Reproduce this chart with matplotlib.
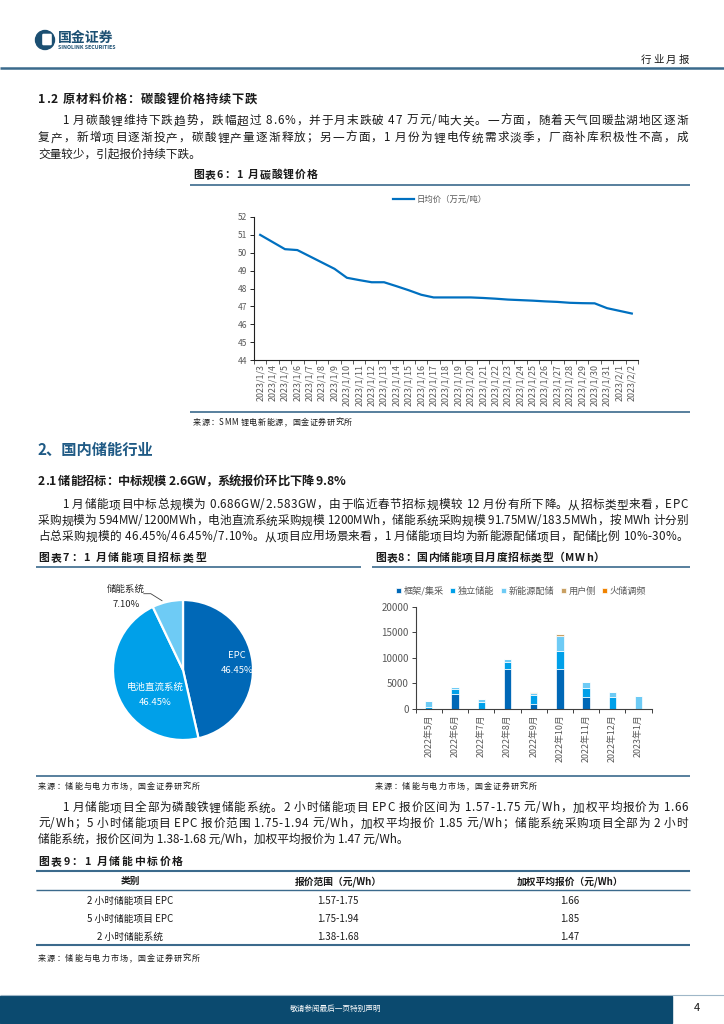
import numpy as np
import matplotlib
matplotlib.use('Agg')
import matplotlib.pyplot as plt
from matplotlib.patches import Circle, Rectangle, FancyBboxPatch
from matplotlib.ticker import FixedLocator
from matplotlib.font_manager import FontProperties

FAMILY = ['Noto Sans CJK SC', 'DejaVu Sans']
plt.rcParams['font.family'] = FAMILY
plt.rcParams['axes.unicode_minus'] = False

# chart 6: daily lithium carbonate price (10k yuan/t)
dates = ['2023/1/%d' % d for d in range(3, 32)] + ['2023/2/1', '2023/2/2']
prices = [51.0, 50.6, 50.2, 50.15, 49.8, 49.45, 49.1, 48.6, 48.47, 48.35, 48.35,
          48.13, 47.9, 47.65, 47.5, 47.5, 47.5, 47.5, 47.47, 47.43, 47.38, 47.35,
          47.32, 47.28, 47.25, 47.2, 47.18, 47.17, 46.9, 46.75, 46.6]

# chart 7: tender types in January
pie_labels = ['EPC', '电池直流系统', '储能系统']
pie_values = [46.45, 46.45, 7.10]

# chart 8: monthly tender volume by type (MWh)
months = ['2022年5月', '2022年6月', '2022年7月', '2022年8月', '2022年9月',
          '2022年10月', '2022年11月', '2022年12月', '2023年1月']
series_names = ['框架/集采', '独立储能', '新能源配储', '用户侧', '火储调频']
kuangjia = [0, 2880, 0, 7720, 850, 7780, 2350, 0, 0]
duli = [400, 1040, 1370, 1370, 1900, 3470, 1770, 2220, 0]
xinnengyuan = [1100, 330, 530, 660, 390, 3070, 1110, 980, 2420]
yonghu = [0, 0, 0, 0, 130, 380, 0, 0, 0]
huochu = [0, 0, 0, 0, 0, 0, 0, 0, 0]

# table 9
tbl_header = ['类别', '报价范围（元/Wh）', '加权平均报价（元/Wh）']
tbl_cat = ['2 小时储能项目 EPC', '5 小时储能项目 EPC', '2 小时储能系统']
tbl_range = ['1.57-1.75', '1.75-1.94', '1.38-1.68']
tbl_avg = ['1.66', '1.85', '1.47']

W, H = 724, 1024
BLUE_D = '#0068B7'
BLUE_M = '#00A0E9'
BLUE_L = '#6ECBF5'
RULE = '#3B6A8C'
GRAY = '#595959'
TXT = '#1a1a1a'
BODY = 8.4

fig = plt.figure(figsize=(W / 100, H / 100), dpi=100)
renderer = fig.canvas.get_renderer()

# page overlay in pixel coordinates
pg = fig.add_axes([0, 0, 1, 1])
pg.set_xlim(0, W)
pg.set_ylim(H, 0)
pg.axis('off')


def put(x, y, s, size=BODY, x1=None, weight='normal', **kw):
    kw.setdefault('color', TXT)
    yb = y + 0.37 * size * 100 / 72   # baseline so mixed glyphs line up
    if x1 is None:
        pg.text(x, yb, s, fontsize=size, va='baseline', weight=weight, **kw)
        return
    # spread characters so the line ends at x1
    fp = FontProperties(family=FAMILY, size=size, weight=weight)
    ws = [renderer.get_text_width_height_descent(c, fp, ismath=False)[0] for c in s]
    gap = (x1 - x - sum(ws)) / (len(s) - 1)
    xx = x
    for c, w in zip(s, ws):
        if c != ' ':
            pg.text(xx, yb, c, fontsize=size, va='baseline', weight=weight, **kw)
        xx += w + gap


def rule(x0, x1, y, lw=1.2, color=RULE):
    pg.plot([x0, x1], [y, y], color=color, lw=lw, solid_capstyle='butt')


# header
pg.add_patch(Circle((45, 40), 9.5, color='#1B4F72'))
pg.add_patch(FancyBboxPatch((43.5, 35), 7, 9, boxstyle='round,pad=0.6', color='white'))
put(58, 37, '国金证券', size=10, weight='bold', color='#1B4F72')
put(58, 47.5, 'SINOLINK SECURITIES', size=3.8, weight='bold', color='#1B4F72')
put(641, 59, '行业月报', size=7.5, x1=689)
rule(0, W, 68, lw=1.8)

# section 1.2
put(38, 98, '1.2 原材料价格：碳酸锂价格持续下跌', size=8.8, weight='bold', x1=257)
put(62, 120, '1 月碳酸锂维持下跌趋势，跌幅超过 8.6%，并于月末跌破 47 万元/吨大关。一方面，随着天气回暖盐湖地区逐渐', x1=688)
put(38, 137, '复产，新增项目逐渐投产，碳酸锂产量逐渐释放；另一方面，1 月份为锂电传统需求淡季，厂商补库积极性不高，成', x1=688)
put(38, 153, '交量较少，引起报价持续下跌。')

put(193, 174, '图表6：1 月碳酸锂价格', size=7.8, weight='bold', x1=318)
rule(190, 690, 185)
rule(190, 690, 412)
put(193, 422, '来源：SMM 锂电新能源，国金证券研究所', size=5.8, x1=352)

# section 2
put(38, 449, '2、国内储能行业', size=11, weight='bold', color='#1F5A85')
put(38, 480, '2.1 储能招标：中标规模 2.6GW，系统报价环比下降 9.8%', size=8.8, weight='bold', x1=345)
put(62, 504, '1 月储能项目中标总规模为 0.686GW/2.583GW，由于临近春节招标规模较 12 月份有所下降。从招标类型来看，EPC', x1=688)
put(38, 520, '采购规模为 594MW/1200MWh，电池直流系统采购规模 1200MWh，储能系统采购规模 91.75MW/183.5MWh，按 MWh 计分别', x1=688)
put(38, 536, '占总采购规模的 46.45%/46.45%/7.10%。从项目应用场景来看，1 月储能项目均为新能源配储项目，配储比例 10%-30%。', x1=688)

put(38, 557, '图表7：1 月储能项目招标类型', size=7.8, weight='bold', x1=206)
put(375, 557, '图表8：国内储能项目月度招标类型（MWh）', size=7.8, weight='bold', x1=604)
rule(36, 361, 567)
rule(372, 690, 567)
rule(36, 690, 776)
put(38, 786, '来源：储能与电力市场，国金证券研究所', size=5.8, x1=200)
put(375, 786, '来源：储能与电力市场，国金证券研究所', size=5.8, x1=537)

put(62, 807, '1 月储能项目全部为磷酸铁锂储能系统。2 小时储能项目 EPC 报价区间为 1.57-1.75 元/Wh，加权平均报价为 1.66', x1=688)
put(38, 823, '元/Wh；5 小时储能项目 EPC 报价范围 1.75-1.94 元/Wh，加权平均报价 1.85 元/Wh；储能系统采购项目全部为 2 小时', x1=688)
put(38, 839, '储能系统，报价区间为 1.38-1.68 元/Wh，加权平均报价为 1.47 元/Wh。')

# table 9
put(38, 861, '图表9：1 月储能中标价格', size=7.8, weight='bold', x1=183)
rule(36, 690, 871, lw=1.5)
rule(36, 690, 890, lw=1.0)
rule(36, 690, 945, lw=1.5)
col_x = [130, 338, 570]
for cx, h in zip(col_x, tbl_header):
    put(cx, 880.5, h, size=7, weight='bold', ha='center')
for i in range(3):
    yy = 900 + i * 18
    put(col_x[0], yy, tbl_cat[i], size=7, ha='center')
    put(col_x[1], yy, tbl_range[i], size=7, ha='center')
    put(col_x[2], yy, tbl_avg[i], size=7, ha='center')
put(38, 958, '来源：储能与电力市场，国金证券研究所', size=5.8, x1=200)

# footer
pg.add_patch(Rectangle((0, 996), 672, 27, color='#0B4A6F'))
rule(0, W, 995, lw=0.8, color='#9fb7c8')
put(336, 1008, '敬请参阅最后一页特别声明', size=5.5, color='white', ha='center')
put(697, 1007, '4', size=8, ha='center')

# ---- chart 6: line
ax = fig.add_axes([254 / W, 1 - 360 / H, 384 / W, 143 / H])
x = np.arange(len(dates))
ax.plot(x, prices, color='#0070C0', lw=1.6, label='日均价（万元/吨）')
ax.set_xlim(-0.5, len(dates) - 0.5)
ax.set_ylim(44, 52)
ax.set_yticks(range(44, 53))
ax.set_xticks(x)
ax.set_xticklabels(dates, rotation=90, fontsize=6.4, color=GRAY)
ax.xaxis.set_minor_locator(FixedLocator(np.arange(-0.5, len(dates), 1.0)))
ax.tick_params(axis='x', which='major', length=0, pad=3)
ax.tick_params(axis='x', which='minor', length=3, width=0.6, color='#404040')
ax.tick_params(axis='y', labelsize=6, labelcolor=GRAY, length=3, width=0.6, pad=2)
for s in ['top', 'right']:
    ax.spines[s].set_visible(False)
for s in ['left', 'bottom']:
    ax.spines[s].set_linewidth(0.8)
    ax.spines[s].set_color('#202020')
ax.legend(loc='center', bbox_to_anchor=(440 / W, 1 - 199 / H), bbox_transform=fig.transFigure,
          frameon=False, fontsize=6, labelcolor=GRAY, handlelength=2.6, handletextpad=0.3)

# ---- chart 7: pie
pa = fig.add_axes([113 / W, 1 - 740 / H, 140 / W, 140 / H])
pa.pie(pie_values, colors=[BLUE_D, BLUE_M, BLUE_L], startangle=90, counterclock=False,
       wedgeprops=dict(edgecolor='white', linewidth=1.6))
pa.set_xlim(-1, 1)
pa.set_ylim(-1, 1)
pa.set_aspect('equal')
pa.text(0.77, 0.2, pie_labels[0], color='white', fontsize=6.8, ha='center', va='center')
pa.text(0.77, -0.01, '%.2f%%' % pie_values[0], color='white', fontsize=6.8, ha='center', va='center')
pa.text(-0.4, -0.24, pie_labels[1], color='white', fontsize=6.8, ha='center', va='center')
pa.text(-0.4, -0.46, '%.2f%%' % pie_values[1], color='white', fontsize=6.8, ha='center', va='center')
pa.text(-0.81, 1.15, pie_labels[2], color='#262626', fontsize=6.8, ha='center', va='center', clip_on=False)
pa.text(-0.81, 0.93, '%.2f%%' % pie_values[2], color='#262626', fontsize=6.8, ha='center', va='center', clip_on=False)
pa.plot([-0.56, -0.46, -0.3], [1.09, 1.09, 0.99], color='#404040', lw=0.6, clip_on=False)

# ---- chart 8: stacked bars
ba = fig.add_axes([415.7 / W, 1 - 708.7 / H, 236 / W, 102 / H])
xb = np.arange(len(months))
bottom = np.zeros(len(months))
for name, vals, col in zip(series_names, [kuangjia, duli, xinnengyuan, yonghu, huochu],
                           [BLUE_D, BLUE_M, BLUE_L, '#C9A063', '#F08300']):
    ba.bar(xb, vals, 0.28, bottom=bottom, color=col, edgecolor='white', linewidth=0.5, label=name)
    bottom += np.array(vals)
ba.set_xlim(-0.5, len(months) - 0.5)
ba.set_ylim(0, 20000)
ba.set_yticks(range(0, 20001, 5000))
ba.set_xticks(xb)
ba.set_xticklabels(months, rotation=90, fontsize=6.4, color=GRAY)
ba.xaxis.set_minor_locator(FixedLocator(np.arange(-0.5, len(months), 1.0)))
ba.tick_params(axis='x', which='major', length=0, pad=4)
ba.tick_params(axis='x', which='minor', length=3, width=0.7, color='#404040')
ba.tick_params(axis='y', labelsize=7, labelcolor=GRAY, length=3, width=0.7, color='#404040', pad=2)
for s in ['top', 'right']:
    ba.spines[s].set_visible(False)
for s in ['left', 'bottom']:
    ba.spines[s].set_linewidth(0.8)
    ba.spines[s].set_color('#404040')
ba.legend(loc='center', bbox_to_anchor=(521 / W, 1 - 591 / H), bbox_transform=fig.transFigure,
          ncol=5, frameon=False, fontsize=6.6, labelcolor=GRAY, handlelength=0.55, handleheight=0.55,
          handletextpad=0.3, columnspacing=0.7)

fig.savefig('out.png', dpi=100)
